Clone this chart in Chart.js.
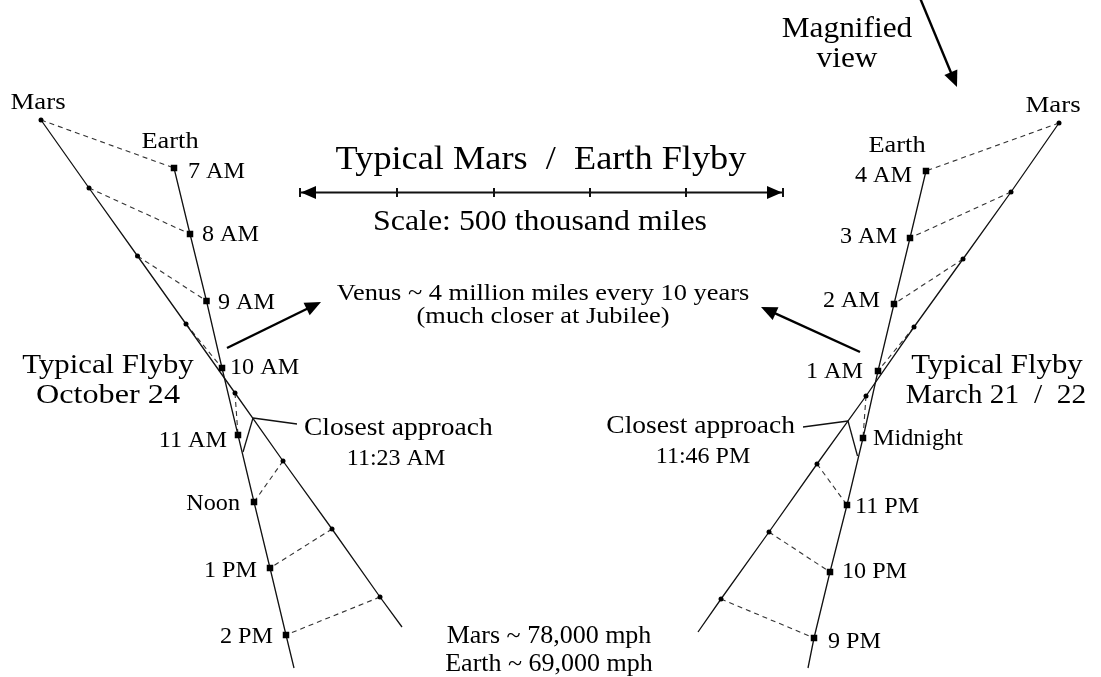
<!DOCTYPE html>
<html>
<head>
<meta charset="utf-8">
<script src="https://cdn.jsdelivr.net/npm/chart.js@4.4.1/dist/chart.umd.min.js"></script>
<style>
  html, body { margin: 0; padding: 0; background: #fff; }
  #flyby { display: block; }
</style>
</head>
<body>
<canvas id="flyby" width="1101" height="677"></canvas>
<script>
// diagram coordinates (x right, y down), one unit = one pixel of the original drawing

// left flyby, October 24
const leftEarthTimes = ['7 AM', '8 AM', '9 AM', '10 AM', '11 AM', 'Noon', '1 PM', '2 PM'];
const leftEarth = [[174, 168], [190, 234], [206.5, 301], [222, 368], [238, 435], [254, 502], [270, 568], [286, 635]];
const leftMars = [[41, 120], [89, 188], [137.5, 256], [186, 324], [235, 393], [283, 461], [332, 529], [380, 597]];
const leftEarthEnd = [294, 668];
const leftMarsEnd = [402, 627];
const leftClosest = [[253, 418], [243, 452]];

// right flyby, March 21 / 22
const rightEarthTimes = ['4 AM', '3 AM', '2 AM', '1 AM', 'Midnight', '11 PM', '10 PM', '9 PM'];
const rightEarth = [[926, 171], [910, 238], [894, 304], [878, 371], [863, 438], [847, 505], [830, 572], [814, 638]];
const rightMars = [[1059, 123], [1011, 192], [963, 259], [914, 327], [866, 396], [817, 464], [769, 532], [721, 599]];
const rightEarthEnd = [808, 668];
const rightMarsEnd = [698, 632];
const rightClosest = [[848, 421], [857.5, 456]];

// scale bar: 500 thousand miles, 5 divisions
const scaleTicks = [300, 397, 494, 590, 686, 783];
const scaleY = 192.5;

const pt = p => ({ x: p[0], y: p[1] });

function segment(a, b, dashed) {
  return {
    type: 'line',
    data: [pt(a), pt(b)],
    borderColor: dashed ? '#333' : '#111',
    borderWidth: dashed ? 1.1 : 1.3,
    borderDash: dashed ? [5, 4] : [],
    pointRadius: 0,
    showLine: true,
    order: 3
  };
}

function track(points, end) {
  return {
    type: 'line',
    data: points.concat([end]).map(pt),
    borderColor: '#111',
    borderWidth: 1.3,
    pointRadius: 0,
    showLine: true,
    order: 2
  };
}

function markers(points, style, radius) {
  return {
    type: 'scatter',
    data: points.map(pt),
    backgroundColor: '#000',
    borderColor: '#000',
    borderWidth: 0,
    pointStyle: style,
    pointRadius: radius,
    order: 1
  };
}

const datasets = [];
[[leftEarth, leftMars, leftEarthEnd, leftMarsEnd, leftClosest],
 [rightEarth, rightMars, rightEarthEnd, rightMarsEnd, rightClosest]].forEach(([earth, mars, eEnd, mEnd, closest]) => {
  mars.forEach((m, i) => datasets.push(segment(m, earth[i], true)));
  datasets.push(track(earth, eEnd));
  datasets.push(track(mars, mEnd));
  datasets.push(segment(closest[0], closest[1], false));
  datasets.push(markers(earth, 'rect', 4.6));
  datasets.push(markers(mars, 'circle', 2.5));
});
// leader lines to the "Closest approach" labels
datasets.push(segment(leftClosest[0], [297, 424], false));
datasets.push(segment(rightClosest[0], [803, 427], false));
// scale bar with tick marks
datasets.push({
  type: 'line',
  data: scaleTicks.map(x => ({ x: x, y: scaleY })),
  borderColor: '#111',
  borderWidth: 2,
  pointStyle: 'line',
  pointRotation: 90,
  pointRadius: 4.5,
  pointBorderWidth: 2,
  pointBorderColor: '#111',
  showLine: true,
  order: 1
});

// arrows: tail -> tip
const arrows = [
  [[227, 348], [321, 302]],
  [[860, 352], [761, 307]],
  [[920, -2], [957, 87]]
];

// [text, x, y(baseline), align, font size, horizontal stretch]
const texts = [
  ['Typical Mars  /  Earth Flyby', 541, 169, 'center', 33, 1.1],
  ['Scale: 500 thousand miles', 540, 230, 'center', 29, 1.1],
  ['Venus ~ 4 million miles every 10 years', 543, 300, 'center', 24, 1.1],
  ['(much closer at Jubilee)', 543, 323, 'center', 24, 1.1],
  ['Magnified', 847, 37, 'center', 28.5, 1.1],
  ['view', 847, 67, 'center', 28.5, 1.1],
  ['Mars ~ 78,000 mph', 549, 643, 'center', 26, 1.0],
  ['Earth ~ 69,000 mph', 549, 671, 'center', 26, 1.0],
  ['Typical Flyby', 108, 373, 'center', 28, 1.1],
  ['October 24', 108, 403, 'center', 28, 1.15],
  ['Typical Flyby', 997, 373, 'center', 28, 1.1],
  ['March 21  /  22', 996, 403, 'center', 28, 1.05],
  ['Mars', 38, 109, 'center', 24, 1.12],
  ['Earth', 170, 148, 'center', 24, 1.1],
  ['Mars', 1053, 112, 'center', 24, 1.12],
  ['Earth', 897, 152, 'center', 24, 1.1],
  ['Closest approach', 304, 435, 'left', 25, 1.1],
  ['11:23 AM', 396, 465, 'center', 24, 1.0],
  ['Closest approach', 795, 433, 'right', 25, 1.1],
  ['11:46 PM', 703, 463, 'center', 24, 1.0]
];

// hour labels: first four on one side of the Earth track, the rest on the other
const leftLabelX = [188, 202, 218, 230, 227, 240, 257, 273];
const leftLabelY = [178, 241, 309, 374, 447, 510, 577, 643];
const rightLabelX = [912, 897, 880, 863, 873, 855, 842, 828];
const rightLabelY = [182, 243, 307, 378, 445, 513, 578, 648];
leftEarthTimes.forEach((t, i) => texts.push([t, leftLabelX[i], leftLabelY[i], i < 4 ? 'left' : 'right', 23, 1.05]));
rightEarthTimes.forEach((t, i) => texts.push([t, rightLabelX[i], rightLabelY[i], i < 4 ? 'right' : 'left', 23, 1.05]));

function head(ctx, x0, y0, x1, y1, len, half) {
  const a = Math.atan2(y1 - y0, x1 - x0);
  ctx.beginPath();
  ctx.moveTo(x1, y1);
  ctx.lineTo(x1 - len * Math.cos(a) + half * Math.sin(a), y1 - len * Math.sin(a) - half * Math.cos(a));
  ctx.lineTo(x1 - len * Math.cos(a) - half * Math.sin(a), y1 - len * Math.sin(a) + half * Math.cos(a));
  ctx.closePath();
  ctx.fill();
}

const decorations = {
  id: 'decorations',
  afterDatasetsDraw(chart) {
    const ctx = chart.ctx;
    const sx = chart.scales.x, sy = chart.scales.y;
    ctx.save();
    ctx.fillStyle = '#000';
    ctx.strokeStyle = '#000';
    ctx.lineCap = 'butt';

    arrows.forEach(([a, b]) => {
      const x0 = sx.getPixelForValue(a[0]), y0 = sy.getPixelForValue(a[1]);
      const x1 = sx.getPixelForValue(b[0]), y1 = sy.getPixelForValue(b[1]);
      const ang = Math.atan2(y1 - y0, x1 - x0);
      ctx.lineWidth = 2.4;
      ctx.beginPath();
      ctx.moveTo(x0, y0);
      ctx.lineTo(x1 - 12 * Math.cos(ang), y1 - 12 * Math.sin(ang));
      ctx.stroke();
      head(ctx, x0, y0, x1, y1, 16, 7);
    });

    // scale bar end arrows
    const yb = sy.getPixelForValue(scaleY);
    const xl = sx.getPixelForValue(scaleTicks[0]);
    const xr = sx.getPixelForValue(scaleTicks[scaleTicks.length - 1]);
    head(ctx, xl + 20, yb, xl + 1, yb, 15, 6.5);
    head(ctx, xr - 20, yb, xr - 1, yb, 15, 6.5);

    ctx.textBaseline = 'alphabetic';
    texts.forEach(([t, x, y, align, size, stretch]) => {
      ctx.save();
      ctx.translate(sx.getPixelForValue(x), sy.getPixelForValue(y));
      ctx.scale(stretch, 1);
      ctx.font = size + 'px "Liberation Serif", "DejaVu Serif", serif';
      ctx.textAlign = align;
      ctx.fillText(t, 0, 0);
      ctx.restore();
    });
    ctx.restore();
  }
};

new Chart(document.getElementById('flyby'), {
  type: 'scatter',
  data: { datasets: datasets },
  options: {
    responsive: false,
    maintainAspectRatio: false,
    animation: false,
    events: [],
    layout: { padding: 0, autoPadding: false },
    plugins: {
      legend: { display: false },
      tooltip: { enabled: false },
      title: { display: false }
    },
    scales: {
      x: { type: 'linear', min: 0, max: 1101, display: false },
      y: { type: 'linear', min: 0, max: 677, reverse: true, display: false }
    }
  },
  plugins: [decorations]
});
</script>
</body>
</html>
